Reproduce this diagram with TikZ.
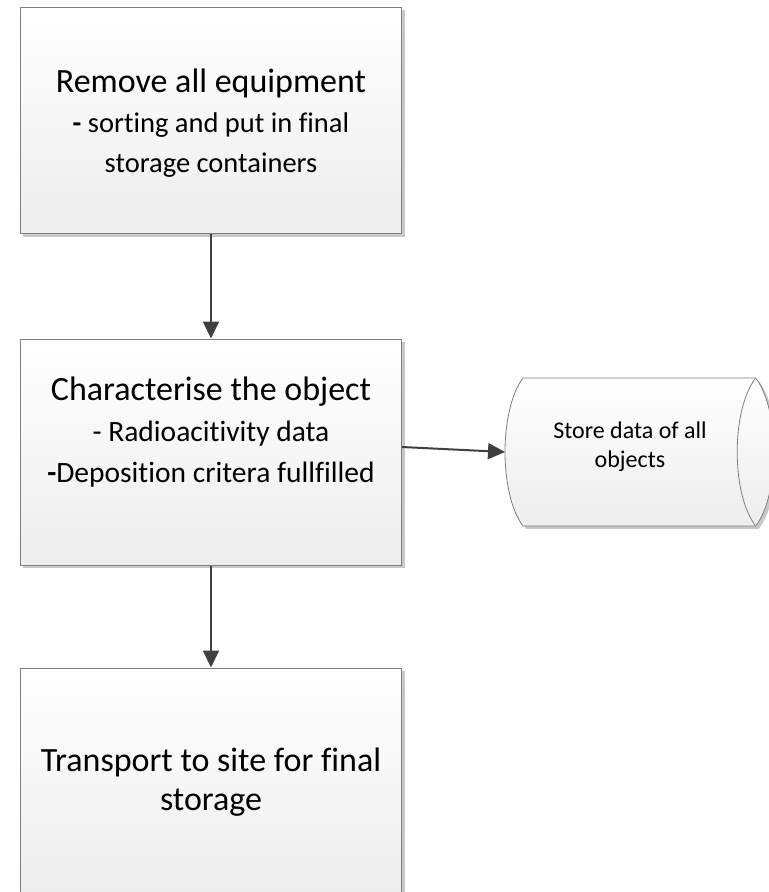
\documentclass[tikz,border=0pt]{standalone}
\usepackage{fontspec}
\setmainfont{Carlito}[Ligatures=NoCommon]
\usetikzlibrary{arrows.meta,shadows}
\definecolor{edge}{HTML}{7F7F7F}
\definecolor{conncol}{HTML}{404040}
\definecolor{shadecol}{HTML}{C8C8C8}
\tikzset{
  procbox/.style={draw=edge, line width=1bp, top color=white, bottom color=black!7,
    minimum width=381bp, minimum height=226bp, inner sep=0pt,
    general shadow={fill=shadecol, shadow xshift=3bp, shadow yshift=-3bp}},
  bigtext/.style={align=center, inner sep=0pt, font=\fontsize{28.5bp}{40bp}\selectfont},
  smalltext/.style={align=center, inner sep=0pt, font=\fontsize{24bp}{29bp}\selectfont},
  conn/.style={draw=conncol, line width=2bp, -{Triangle[length=17bp,width=16bp]}},
  storeshape/.style={draw=edge, line width=0.8bp, top color=white, bottom color=black!7}
}
\newcommand{\titleline}[1]{{\fontsize{34bp}{40bp}\selectfont #1}}
\begin{document}
\begin{tikzpicture}[x=1bp,y=-1bp]
\useasboundingbox (0,0) rectangle (769,892);
% boxes
\node[procbox] (b1) at (211,120.5) {};
\node[procbox] (b2) at (211,452) {};
\node[procbox] (b3) at (211,781) {};
% texts
\node[bigtext] (t1) at (211,123) {\titleline{Remove all equipment}\\ \textbf{-} sorting and put in final\\ storage containers};
\node[bigtext, font=\fontsize{29.5bp}{41bp}\selectfont] (t2) at (211,432.5) {\titleline{Characterise the object}\\ - Radioacitivity data\\ \textbf{-}Deposition critera fullfilled};
\node[bigtext, font=\fontsize{34bp}{38.5bp}\selectfont] (t3) at (211,782) {Transport to site for final\\ storage};
% data store
\fill[shadecol] (526,381) -- (758.7,381) .. controls (783,413) and (783,497) .. (758.7,529) -- (526,529) .. controls (502,497) and (502,413) .. (526,381) -- cycle;
\path[storeshape] (523,378) -- (755.7,378) .. controls (780,410) and (780,494) .. (755.7,526) -- (523,526) .. controls (499,494) and (499,410) .. (523,378) -- cycle;
\draw[draw=edge, line width=0.8bp] (755.7,378) .. controls (731,410) and (731,494) .. (755.7,526);
\coordinate (stw) at (505,452);
\node[smalltext] (st) at (630,446.5) {Store data of all\\ objects};
% connectors
\draw[conn] (b1.south) -- (b2.north);
\draw[conn] (b2.south) -- (b3.north);
\draw[conn] ([yshift=5bp]b2.east) -- (stw);
\end{tikzpicture}
\end{document}
